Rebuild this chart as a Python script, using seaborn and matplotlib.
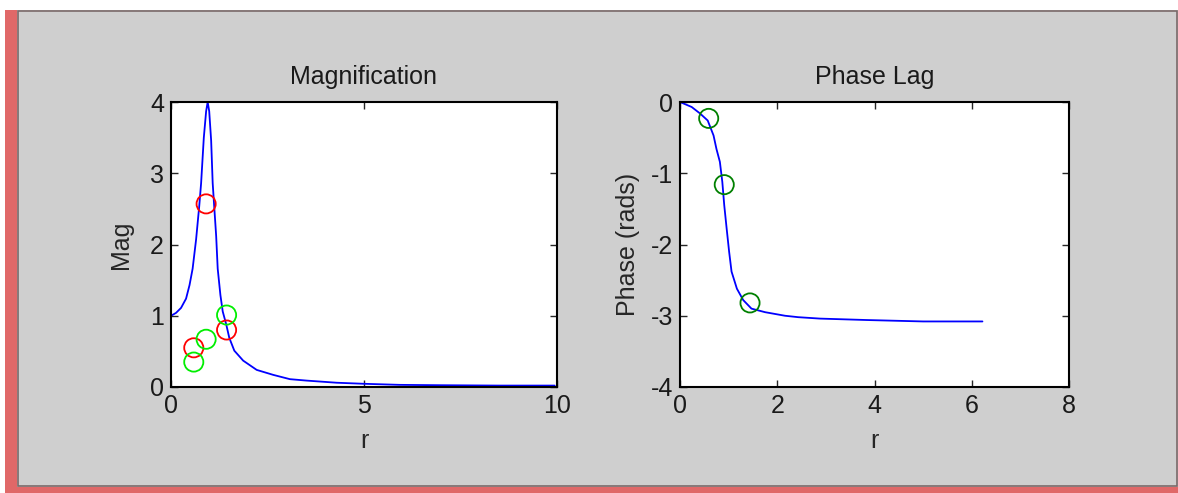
import matplotlib
matplotlib.use("Agg")
import matplotlib.pyplot as plt
import seaborn as sns
from matplotlib.patches import Rectangle

# Magnification curve
mag_r = [0.0, 0.13, 0.26, 0.39, 0.48, 0.56, 0.65, 0.73, 0.78, 0.85, 0.91, 0.95, 0.99,
         1.04, 1.08, 1.12, 1.17, 1.21, 1.28, 1.34, 1.43, 1.51, 1.64, 1.87, 2.22, 2.65,
         3.08, 3.51, 4.29, 5.0, 5.93, 7.0, 8.5, 9.94]
mag_val = [1.0, 1.04, 1.11, 1.24, 1.43, 1.66, 2.07, 2.53, 2.86, 3.5, 3.87, 4.0, 3.87,
           3.46, 2.86, 2.53, 2.12, 1.66, 1.29, 1.06, 0.88, 0.69, 0.51, 0.37, 0.24, 0.17,
           0.11, 0.09, 0.06, 0.045, 0.03, 0.025, 0.02, 0.02]

# Phase curve
ph_r = [0.0, 0.24, 0.41, 0.57, 0.69, 0.75, 0.82, 0.87, 0.91, 0.96, 1.01, 1.06, 1.17,
        1.30, 1.47, 1.75, 2.16, 2.43, 2.88, 3.84, 5.0, 6.22]
ph_val = [0.0, -0.07, -0.16, -0.26, -0.47, -0.66, -0.84, -1.12, -1.45, -1.78, -2.10,
          -2.38, -2.62, -2.78, -2.90, -2.95, -3.0, -3.02, -3.04, -3.06, -3.08, -3.08]

# Marked points
pts_r = [0.59, 0.91, 1.44]
mag_red = [0.55, 2.57, 0.80]
mag_green = [0.35, 0.67, 1.01]
ph_green = [-0.23, -1.16, -2.82]

sns.set_style("ticks")
plt.rcParams['font.family'] = ['Liberation Sans', 'DejaVu Sans']
plt.rcParams['axes.unicode_minus'] = False
plt.rcParams['text.color'] = '#1a1a1a'

bg = '#cfcfcf'
fig = plt.figure(figsize=(11.78, 4.93), dpi=100, facecolor=bg)

# window frame
fig.patches.append(Rectangle((0, 1 - 10 / 493), 1, 10 / 493, transform=fig.transFigure,
                             facecolor='white', edgecolor='none', zorder=-5))
fig.patches.append(Rectangle((0, 0), 5 / 1178, 1, transform=fig.transFigure,
                             facecolor='white', edgecolor='none', zorder=-5))
fig.patches.append(Rectangle((5 / 1178, 0), 12 / 1178, 1 - 10 / 493, transform=fig.transFigure,
                             facecolor='#e06868', edgecolor='none', zorder=-4))
fig.patches.append(Rectangle((5 / 1178, 0), 1 - 5 / 1178, 6 / 493, transform=fig.transFigure,
                             facecolor='#e06868', edgecolor='none', zorder=-4))
fig.patches.append(Rectangle((18 / 1178, 7 / 493), 1 - 19.5 / 1178, 1 - 17.5 / 493,
                             transform=fig.transFigure, facecolor='none',
                             edgecolor='#7a6a6a', lw=1.2, zorder=-3))

fs = 18
ax1 = fig.add_axes([171 / 1178, 1 - 387 / 493, 386 / 1178, 285 / 493])
ax2 = fig.add_axes([680 / 1178, 1 - 387 / 493, 389 / 1178, 285 / 493])

sns.lineplot(x=mag_r, y=mag_val, ax=ax1, color='#0000ff', lw=1.3, sort=False)
sns.scatterplot(x=pts_r, y=mag_red, ax=ax1, marker='o', s=190, facecolors='none',
                edgecolor='#ff0000', linewidth=1.3, zorder=3)
sns.scatterplot(x=pts_r, y=mag_green, ax=ax1, marker='o', s=190, facecolors='none',
                edgecolor='#00ee00', linewidth=1.3, zorder=3)

sns.lineplot(x=ph_r, y=ph_val, ax=ax2, color='#0000ff', lw=1.3, sort=False)
sns.scatterplot(x=pts_r, y=ph_green, ax=ax2, marker='o', s=190, facecolors='none',
                edgecolor='#008000', linewidth=1.3, zorder=3)

ax1.set_xlim(0, 10)
ax1.set_ylim(0, 4)
ax1.set_xticks([0, 5, 10])
ax1.set_yticks([0, 1, 2, 3, 4])
ax1.set_title('Magnification', fontsize=fs, pad=13)
ax1.set_xlabel('r', fontsize=fs, labelpad=8)
ax1.set_ylabel('Mag', fontsize=fs, labelpad=12)

ax2.set_xlim(0, 8)
ax2.set_ylim(-4, 0)
ax2.set_xticks([0, 2, 4, 6, 8])
ax2.set_yticks([-4, -3, -2, -1, 0])
ax2.set_title('Phase Lag', fontsize=fs, pad=13)
ax2.set_xlabel('r', fontsize=fs, labelpad=8)
ax2.set_ylabel('Phase (rads)', fontsize=fs, labelpad=8)

for ax in (ax1, ax2):
    ax.set_facecolor('white')
    for sp in ax.spines.values():
        sp.set_visible(True)
        sp.set_color('black')
        sp.set_linewidth(1.5)
    ax.tick_params(axis='both', which='both', direction='in', length=5, width=1,
                   top=True, right=True, labelsize=fs, pad=5, labelcolor='#1a1a1a')

fig.savefig('out.png', dpi=100, facecolor=bg)
